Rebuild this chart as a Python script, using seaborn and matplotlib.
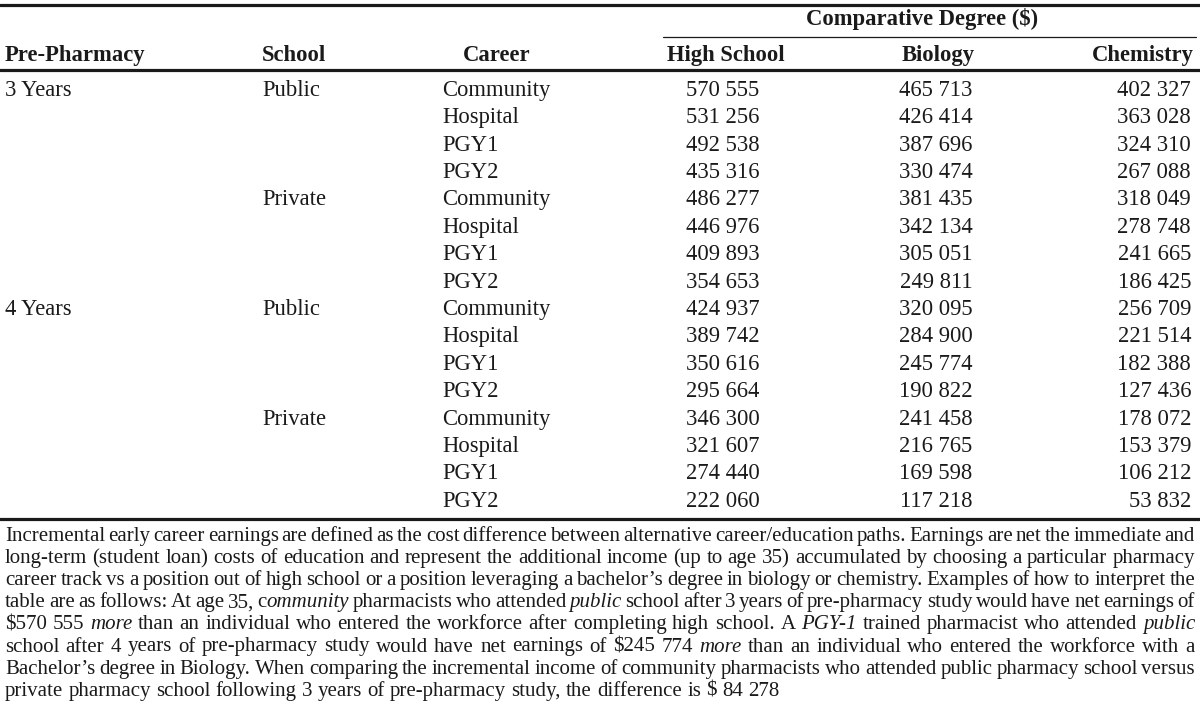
import matplotlib
matplotlib.use("Agg")
import matplotlib.pyplot as plt
import seaborn as sns

# table data
pre_pharmacy = ["3 Years", "", "", "", "", "", "", "",
                "4 Years", "", "", "", "", "", "", ""]
school = ["Public", "", "", "", "Private", "", "", "",
          "Public", "", "", "", "Private", "", "", ""]
career = ["Community", "Hospital", "PGY1", "PGY2"] * 4
high_school = [570555, 531256, 492538, 435316, 486277, 446976, 409893, 354653,
               424937, 389742, 350616, 295664, 346300, 321607, 274440, 222060]
biology = [465713, 426414, 387696, 330474, 381435, 342134, 305051, 249811,
           320095, 284900, 245774, 190822, 241458, 216765, 169598, 117218]
chemistry = [402327, 363028, 324310, 267088, 318049, 278748, 241665, 186425,
             256709, 221514, 182388, 127436, 178072, 153379, 106212, 53832]

headers = ["Pre-Pharmacy", "School", "Career", "High School", "Biology", "Chemistry"]
group_header = "Comparative Degree ($)"

# footnote lines, *...* = italic
footnote = [
    "Incremental early career earnings are defined as the cost difference between alternative career/education paths. Earnings are net the immediate and",
    "long-term (student loan) costs of education and represent the additional income (up to age 35) accumulated by choosing a particular pharmacy",
    "career track vs a position out of high school or a position leveraging a bachelor\u2019s degree in biology or chemistry. Examples of how to interpret the",
    "table are as follows: At age 35, c*ommunity* pharmacists who attended *public* school after 3 years of pre-pharmacy study would have net earnings of",
    "$570 555 *more* than an individual who entered the workforce after completing high school. A *PGY-1* trained pharmacist who attended *public*",
    "school after 4 years of pre-pharmacy study would have net earnings of $245 774 *more* than an individual who entered the workforce with a",
    "Bachelor\u2019s degree in Biology. When comparing the incremental income of community pharmacists who attended public pharmacy school versus",
    "private pharmacy school following 3 years of pre-pharmacy study, the difference is $ 84 278",
]

sns.set_theme(style="white")
plt.rcParams["font.family"] = ["Liberation Serif", "DejaVu Serif"]

fig = plt.figure(figsize=(12, 7.27), dpi=100)
ax = fig.add_axes([0, 0, 1, 1])
ax.set_xlim(0, 1200)
ax.set_ylim(727, 0)
ax.axis("off")

FS = 16.3
FN = 15.05
col = "#1a1a1a"


def fmt(v):
    return f"{v:,}".replace(",", " ")


# rules
ax.plot([0, 1200], [5, 5], color=col, lw=2.3)
ax.plot([663, 1196], [37, 37], color=col, lw=0.9)
ax.plot([0, 1200], [69.5, 69.5], color=col, lw=2.3)
ax.plot([0, 1200], [518.5, 518.5], color=col, lw=2.3)

# header
ax.text(922, 24.5, group_header, ha="center", va="baseline", fontsize=FS,
        fontweight="bold", color=col, parse_math=False)
hx = [5, 262, 497, 726, 938, 1194]
ha = ["left", "left", "center", "center", "center", "right"]
for x, h, a in zip(hx, headers, ha):
    ax.text(x, 61, h, ha=a, va="baseline", fontsize=FS, fontweight="bold", color=col)

# body
y0, dy = 95.8, 27.4
for i in range(len(career)):
    y = y0 + i * dy
    kw = dict(va="baseline", fontsize=FS, color=col)
    ax.text(5, y, pre_pharmacy[i], ha="left", **kw)
    ax.text(262, y, school[i], ha="left", **kw)
    ax.text(442, y, career[i], ha="left", **kw)
    ax.text(723, y, fmt(high_school[i]), ha="center", **kw)
    ax.text(936, y, fmt(biology[i]), ha="center", **kw)
    ax.text(1191, y, fmt(chemistry[i]), ha="right", **kw)

# footnote, justified
renderer = fig.canvas.get_renderer()


def parse(line):
    words = []
    italic = False
    for w in line.split(" "):
        pieces = []
        buf = ""
        for ch in w:
            if ch == "*":
                if buf:
                    pieces.append((buf, italic))
                buf = ""
                italic = not italic
            else:
                buf += ch
        if buf:
            pieces.append((buf, italic))
        words.append(pieces)
    return words


def width(s, it):
    t = ax.text(0, 0, s, fontsize=FN, style="italic" if it else "normal",
                parse_math=False)
    w = t.get_window_extent(renderer).width
    t.remove()
    return w


space = width("a a", False) - 2 * width("a", False)
left, right = 5, 1195
for k, line in enumerate(footnote):
    y = 541 + k * 22.1
    words = parse(line)
    ww = [[width(s, it) for s, it in p] for p in words]
    tot = sum(sum(w) for w in ww)
    last = k == len(footnote) - 1
    gap = space if last else (right - left - tot) / (len(words) - 1)
    x = left
    for p, w in zip(words, ww):
        for (s, it), wi in zip(p, w):
            ax.text(x, y, s, ha="left", va="baseline", fontsize=FN, color=col,
                    style="italic" if it else "normal", parse_math=False)
            x += wi
        x += gap

fig.savefig("out.png", dpi=100, facecolor="white")
